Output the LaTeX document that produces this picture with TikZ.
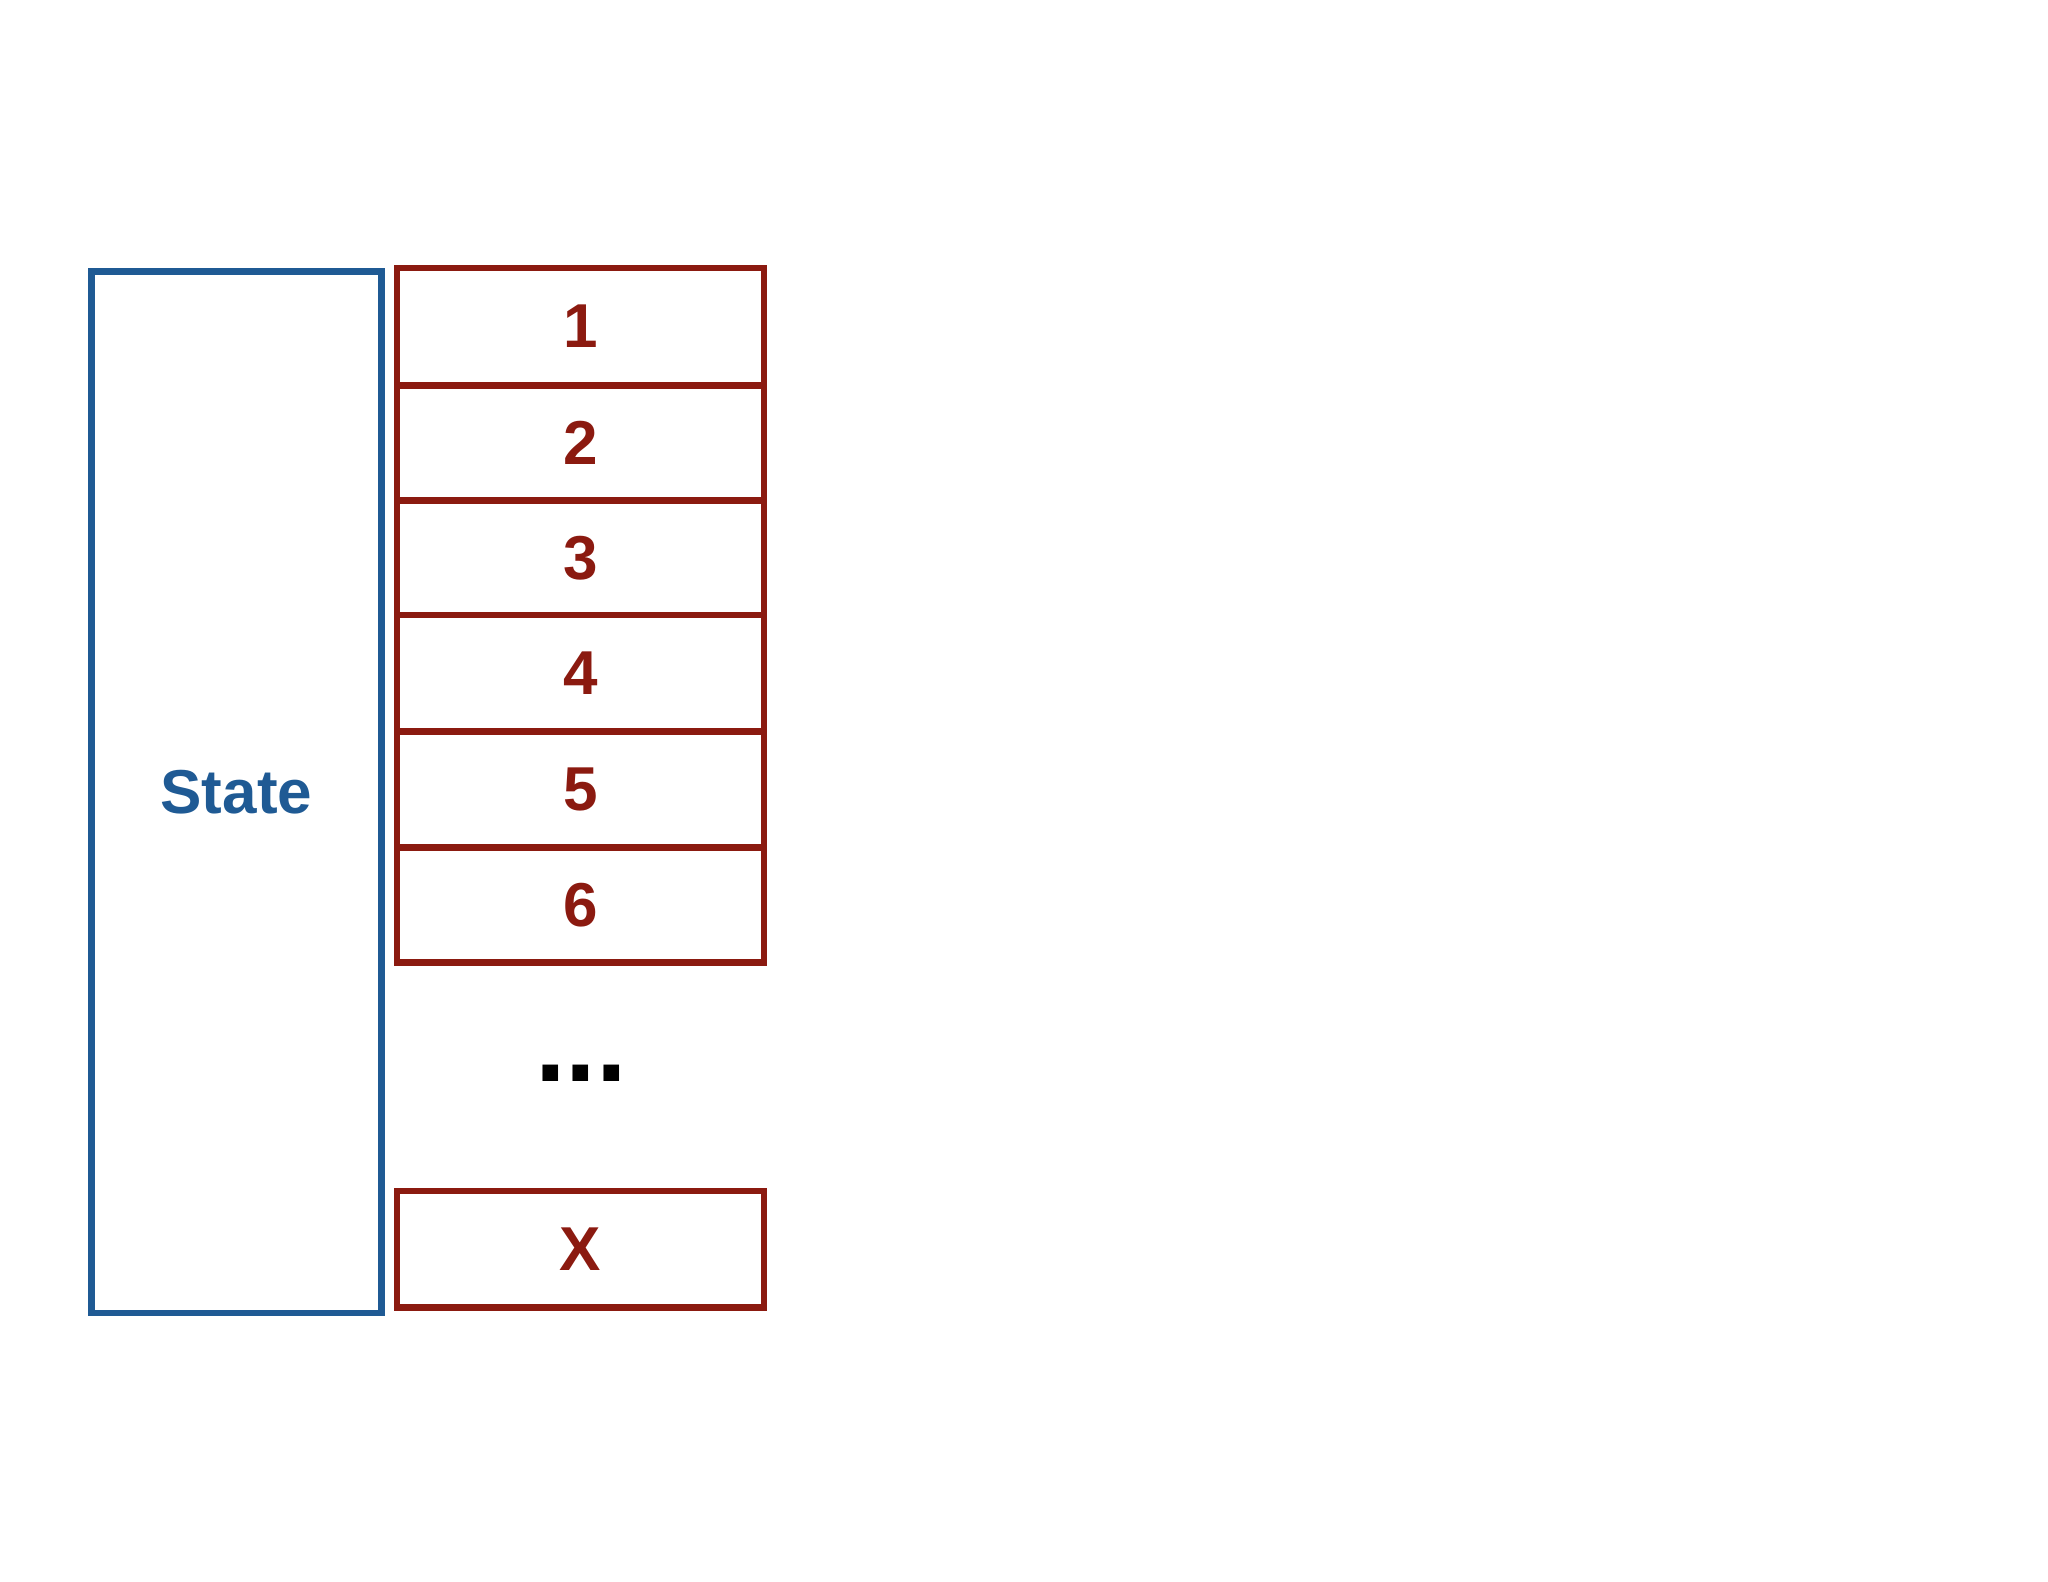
\documentclass[tikz,border=0pt]{standalone}
\usepackage{fontspec}
\setmainfont{Liberation Sans}
\definecolor{sblue}{HTML}{1F5A94}
\definecolor{sred}{HTML}{8B1A10}
\begin{document}
\begin{tikzpicture}[x=0.01cm,y=-0.01cm,
  lbl/.style={font=\fontsize{13.5}{16}\selectfont\bfseries},
  cell/.style={draw=sred,line width=1.4pt,lbl,text=sred,inner sep=0,minimum width=2.81cm}]
\useasboundingbox (0,0) rectangle (1568,1211);
\node[draw=sblue,line width=1.4pt,lbl,text=sblue,inner sep=0,minimum width=2.22cm,minimum height=7.97cm] (state) at (181,606.5) {State};
\foreach \n/\a/\b in {1/205/295,2/295/383,3/383/471,4/471/560,5/560/649,6/649/737,X/912/1001}{
  \pgfmathsetmacro{\h}{(\b-\a)/100}
  \node[cell,minimum height=\h cm] (c\n) at (444.5,{(\a+\b)/2}) {\n};
}
\node[lbl,font=\fontsize{24}{26}\selectfont\bfseries] (dots) at (445,822) {...};
\end{tikzpicture}
\end{document}
